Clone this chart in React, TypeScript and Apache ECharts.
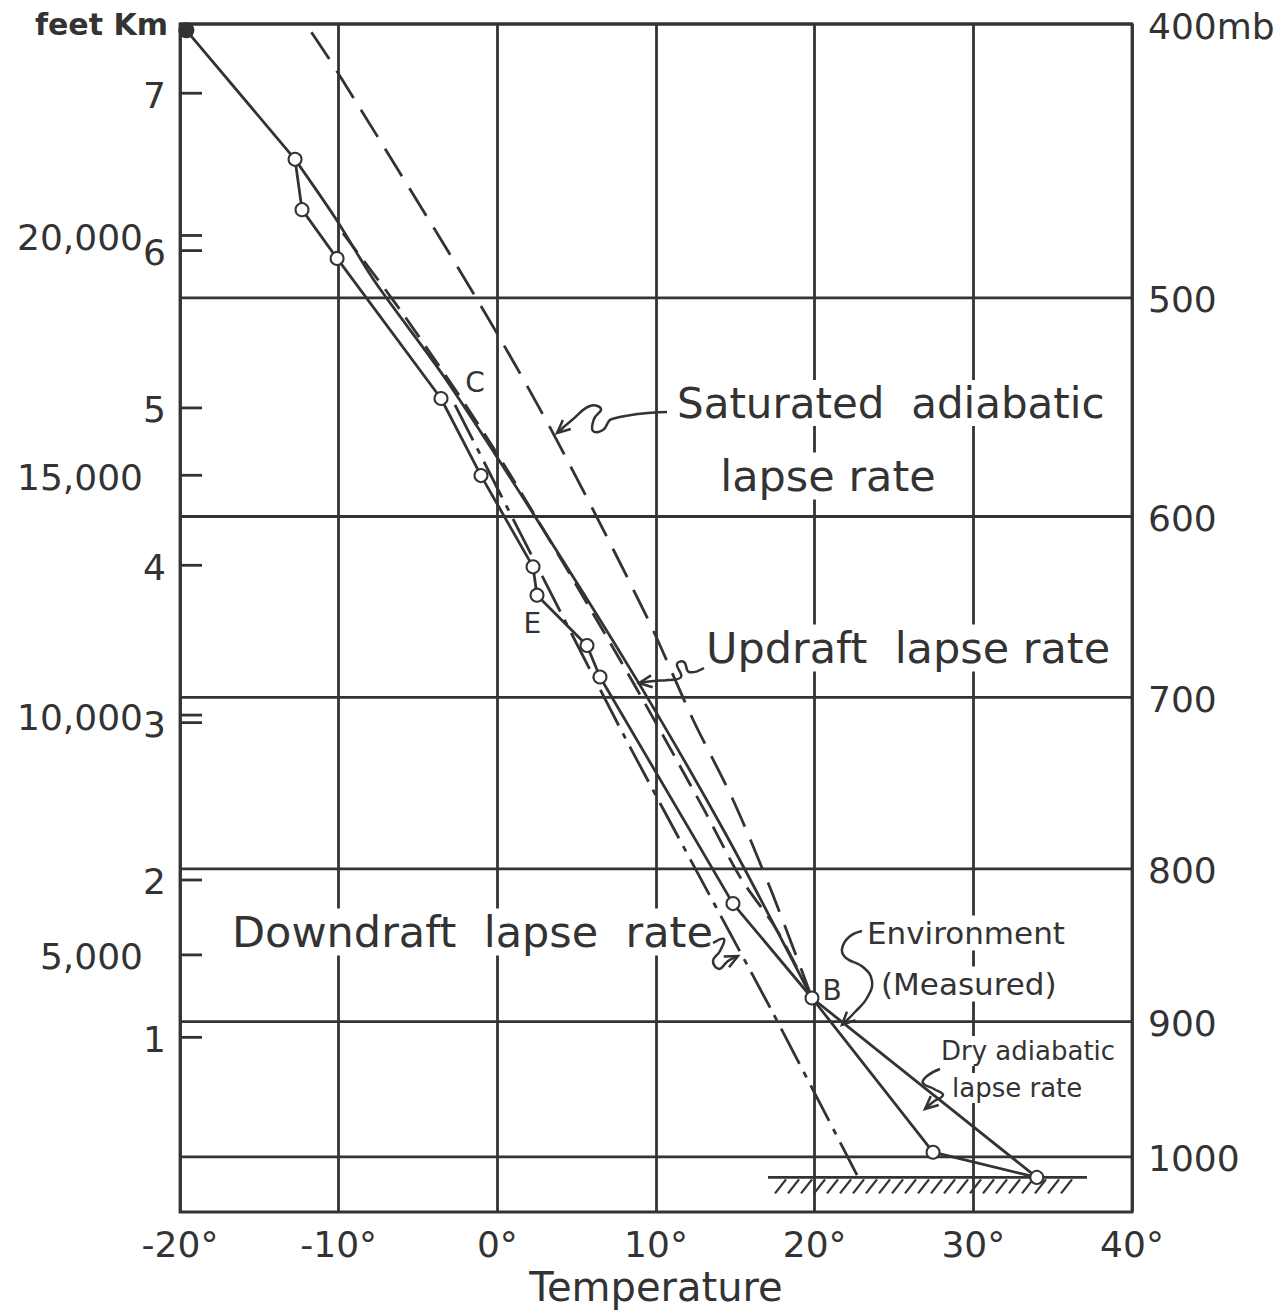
import React, { useEffect, useRef } from "react";
import * as echarts from "echarts";

// ---------- data ----------
const tempTicks = [-20, -10, 0, 10, 20, 30, 40];
const kmTicks = [1, 2, 3, 4, 5, 6, 7];
const feetTicks = [5000, 10000, 15000, 20000];
const feetLabels = ["5,000", "10,000", "15,000", "20,000"];
const pressureLabels = ["400mb", "500", "600", "700", "800", "900", "1000"];
const pressureHeightsKm = [7.44, 5.7, 4.31, 3.16, 2.07, 1.1, 0.24];

// Environment (measured) sounding
const envT = [-19.6, -12.75, -12.31, -10.1, -3.55, -1.03, 2.25, 2.5, 5.65, 6.47, 14.85, 19.83, 27.46, 34.0];
const envH = [7.4, 6.58, 6.26, 5.95, 5.06, 4.57, 3.99, 3.81, 3.49, 3.29, 1.85, 1.25, 0.27, 0.11];

// Updraft lapse rate (solid)
const updraftT = [19.83, 14.35, 8.8, 2.69, -3.3, -7.7, -10.23, -12.75];
const updraftH = [1.25, 2.3, 3.27, 4.26, 5.19, 5.8, 6.21, 6.58];

// Saturated adiabatic lapse rate (long dashes)
const satT = [19.83, 17.31, 14.85, 12.33, 9.43, 3.51, -1.28, -10.23, -12.0];
const satH = [1.25, 1.92, 2.51, 3.02, 3.67, 4.84, 5.69, 7.16, 7.43];

// Second saturated curve (medium dashes)
const sat2T = [-9.73, -5.82, -0.02, 7.73, 12.96, 15.29, 17.63, 19.83];
const sat2H = [6.11, 5.58, 4.71, 3.4, 2.46, 2.02, 1.68, 1.25];

// Downdraft lapse rate (dash-dot)
const downT = [-2.67, 7.92, 17.37, 22.67];
const downH = [5.02, 2.93, 1.155, 0.125];

// Dry adiabatic lapse rate (surface to cloud base B)
const dryT = [34.0, 19.83];
const dryH = [0.11, 1.25];

// Ground
const groundH = 0.11;
const groundSpan = [17.06, 37.16];

// Point letters
const pointLetters = ["C", "E", "B"];
const pointLetterT = [-1.4, 2.2, 21.1];
const pointLetterH = [5.16, 3.63, 1.3];

const INK = "#333333";
const FONT = '"DejaVu Sans", sans-serif';
const LW = 2.8;

const pairs = (xs: number[], ys: number[]) => xs.map((x, i) => [x, ys[i]]);

function vHead(tip: number[], from: number[], len = 13, w = 6) {
  const dx = tip[0] - from[0];
  const dy = tip[1] - from[1];
  const L = Math.hypot(dx, dy) || 1;
  const ux = dx / L, uy = dy / L;
  const bx = tip[0] - ux * len, by = tip[1] - uy * len;
  return [[bx - uy * w, by + ux * w], [tip[0], tip[1]], [bx + uy * w, by - ux * w]];
}

function arrow(points: number[][]) {
  const n = points.length;
  return [
    { type: "polyline", shape: { points, smooth: 0.45 }, style: { stroke: INK, lineWidth: 2.5, fill: null }, z: 50 },
    { type: "polyline", shape: { points: vHead(points[n - 1], points[n - 2]) }, style: { stroke: INK, lineWidth: 2.5, fill: null }, z: 50 },
  ];
}

function label(text: string, x: number, y: number, size: number, align = "left", weight = "normal") {
  return {
    type: "text",
    z: 40,
    style: {
      text, x, y, fill: INK, fontSize: size, fontFamily: FONT, fontWeight: weight,
      align, verticalAlign: "middle", backgroundColor: "#ffffff", padding: [2, 4],
    },
  };
}

export default function App() {
  const ref = useRef<HTMLDivElement>(null);
  useEffect(() => {
    if (!ref.current) return;
    const chart = echarts.init(ref.current, undefined, { renderer: "svg" });

    const tickSeries = (values: number[], labels: string[], rightEdge: number, len: number) => ({
      type: "custom",
      silent: true,
      z: 5,
      data: values.map((v) => [-20, v]),
      encode: { x: 0, y: 1 },
      renderItem: (params: any, api: any) => {
        const p = api.coord([-20, api.value(1)]);
        return {
          type: "group",
          children: [
            { type: "line", shape: { x1: p[0], y1: p[1], x2: p[0] + len, y2: p[1] }, style: { stroke: INK, lineWidth: LW } },
            {
              type: "text",
              style: {
                x: rightEdge, y: p[1] + 2, text: labels[params.dataIndex], fill: INK,
                fontSize: 36, fontFamily: FONT, align: "right", verticalAlign: "middle",
              },
            },
          ],
        };
      },
    });

    const option: any = {
      animation: false,
      backgroundColor: "#ffffff",
      grid: { left: 180, right: 151, top: 24, bottom: 103, show: true, borderColor: INK, borderWidth: LW },
      xAxis: {
        type: "value", min: tempTicks[0], max: tempTicks[tempTicks.length - 1], interval: 10,
        axisLine: { show: false }, axisTick: { show: false },
        splitLine: { show: true, lineStyle: { color: INK, width: LW } },
        axisLabel: { formatter: (v: number) => `${v}°`, fontSize: 36, color: INK, fontFamily: FONT, margin: 14 },
        name: "Temperature", nameLocation: "middle", nameGap: 54,
        nameTextStyle: { fontSize: 40, color: INK, fontFamily: FONT },
      },
      yAxis: {
        type: "value", min: -0.11, max: 7.44,
        axisLine: { show: false }, axisTick: { show: false }, axisLabel: { show: false }, splitLine: { show: false },
      },
      series: [
        {
          type: "custom", silent: true, z: 4,
          data: pressureHeightsKm.map((h) => [40, h]),
          encode: { x: 0, y: 1 },
          renderItem: (params: any, api: any) => {
            const a = api.coord([-20, api.value(1)]);
            const b = api.coord([40, api.value(1)]);
            return {
              type: "group",
              children: [
                { type: "line", shape: { x1: a[0], y1: a[1], x2: b[0], y2: b[1] }, style: { stroke: INK, lineWidth: LW } },
                {
                  type: "text",
                  style: {
                    x: b[0] + 16, y: b[1] + 2, text: pressureLabels[params.dataIndex], fill: INK,
                    fontSize: 36, fontFamily: FONT, align: "left", verticalAlign: "middle",
                  },
                },
              ],
            };
          },
        },
        tickSeries(kmTicks, kmTicks.map(String), 166, 22),
        tickSeries(feetTicks.map((f) => f / 3280.84), feetLabels, 143, 22),
        {
          type: "custom", silent: true, z: 6,
          data: [[groundSpan[0], groundH]],
          encode: { x: 0, y: 1 },
          renderItem: (params: any, api: any) => {
            const a = api.coord([groundSpan[0], groundH]);
            const b = api.coord([groundSpan[1], groundH]);
            const children: any[] = [
              { type: "line", shape: { x1: a[0], y1: a[1], x2: b[0], y2: b[1] }, style: { stroke: INK, lineWidth: LW } },
            ];
            for (let x = a[0] + 18; x < b[0] - 2; x += 13) {
              children.push({ type: "line", shape: { x1: x - 11, y1: a[1] + 16, x2: x, y2: a[1] + 2 }, style: { stroke: INK, lineWidth: 2.3 } });
            }
            return { type: "group", children };
          },
        },
        {
          name: "Saturated adiabatic", type: "line", data: pairs(satT, satH), showSymbol: false, smooth: 0.3,
          lineStyle: { color: INK, width: LW, type: [32, 14] }, z: 10,
        },
        {
          name: "Saturated 2", type: "line", data: pairs(sat2T, sat2H), showSymbol: false, smooth: 0.3,
          lineStyle: { color: INK, width: LW, type: [24, 11] }, z: 10,
        },
        {
          name: "Downdraft", type: "line", data: pairs(downT, downH), showSymbol: false, smooth: 0.2,
          lineStyle: { color: INK, width: LW, type: [40, 9, 6, 9] }, z: 10,
        },
        {
          name: "Updraft", type: "line", data: pairs(updraftT, updraftH), showSymbol: false, smooth: 0.3,
          lineStyle: { color: INK, width: LW }, z: 11,
        },
        {
          name: "Dry adiabatic", type: "line", data: pairs(dryT, dryH), showSymbol: false,
          lineStyle: { color: INK, width: LW }, z: 11,
        },
        {
          name: "Environment", type: "line",
          data: pairs(envT, envH).map((d, i) =>
            i === 0 ? { value: d, symbol: "circle", symbolSize: 16, itemStyle: { color: INK, borderWidth: 0 } } : d
          ),
          symbol: "emptyCircle", symbolSize: 13, showSymbol: true, showAllSymbol: true,
          itemStyle: { color: INK, borderColor: INK, borderWidth: 2.4 },
          lineStyle: { color: INK, width: LW }, z: 12,
        },
        {
          type: "custom", silent: true, z: 13,
          data: pointLetters.map((_, i) => [pointLetterT[i], pointLetterH[i]]),
          encode: { x: 0, y: 1 },
          renderItem: (params: any, api: any) => {
            const p = api.coord([api.value(0), api.value(1)]);
            return {
              type: "text",
              style: { x: p[0], y: p[1], text: pointLetters[params.dataIndex], fill: INK, fontSize: 28, fontFamily: FONT, align: "center", verticalAlign: "middle" },
            };
          },
        },
      ],
      graphic: [
        label("feet Km", 172, 24, 30, "right", "bold"),
        label("Saturated  adiabatic", 673, 403, 42),
        label("lapse rate", 828, 476, 43, "center"),
        label("Updraft  lapse rate", 702, 648, 43),
        label("Downdraft  lapse  rate", 228, 932, 43),
        label("Environment", 863, 933, 31),
        label("(Measured)", 877, 984, 31),
        label("Dry adiabatic", 937, 1051, 26),
        label("lapse rate", 948, 1088, 26),
        ...arrow([[667, 412], [612, 419], [603, 430], [593, 431], [594, 419], [601, 409], [590, 406], [572, 420], [557, 433]]),
        ...arrow([[704, 668], [689, 672], [684, 662], [677, 664], [681, 677], [668, 680], [654, 681], [639, 683]]),
        ...arrow([[713, 943], [724, 939], [720, 951], [713, 961], [719, 969], [728, 961], [738, 956]]),
        ...arrow([[862, 931], [849, 937], [842, 949], [846, 958], [863, 967], [872, 981], [867, 998], [855, 1012], [842, 1025]]),
        ...arrow([[940, 1069], [927, 1076], [923, 1083], [934, 1089], [943, 1095], [933, 1102], [925, 1109]]),
      ],
    };

    chart.setOption(option);
    return () => chart.dispose();
  }, []);

  return (
    <div
      ref={ref}
      style={{ position: "fixed", left: 0, top: 0, width: 1283, height: 1315, background: "#fff" }}
    />
  );
}
